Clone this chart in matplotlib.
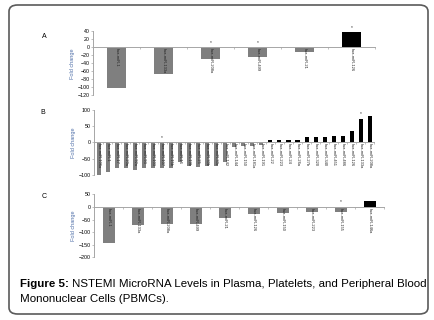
import numpy as np
import matplotlib.pyplot as plt
from matplotlib.patches import FancyBboxPatch

# ---- data ----
a_labels = ["hsa-miR-1", "hsa-miR-133a", "hsa-miR-208a", "hsa-miR-499",
            "hsa-miR-21", "hsa-miR-126"]
a_values = [-102, -67, -29, -24, -12, 38]
a_stars = [2, 3, 5]

b_labels = ["hsa-miR-106a", "hsa-miR-1", "hsa-miR-17", "hsa-miR-20a", "hsa-miR-92a",
            "hsa-miR-93", "hsa-miR-103", "hsa-miR-107", "hsa-miR-15b", "hsa-miR-16",
            "hsa-miR-19b", "hsa-miR-25", "hsa-miR-30b", "hsa-miR-30c", "hsa-miR-142",
            "hsa-miR-144", "hsa-miR-150", "hsa-miR-181a", "hsa-miR-191", "hsa-miR-22",
            "hsa-miR-223", "hsa-miR-24", "hsa-miR-26a", "hsa-miR-27b", "hsa-miR-320",
            "hsa-miR-340", "hsa-miR-451", "hsa-miR-486", "hsa-miR-126", "hsa-miR-133a",
            "hsa-miR-208a"]
b_values = [-102, -91, -79, -79, -85, -79, -79, -79, -79, -59,
            -71, -76, -71, -71, -61, -14, -12, -10, -8,
            8, 8, 8, 8, 15, 15, 15, 20, 20, 35, 73, 81]
b_stars = [7, 29]

c_labels = ["hsa-miR-1", "hsa-miR-133a", "hsa-miR-208a", "hsa-miR-499",
            "hsa-miR-21", "hsa-miR-126", "hsa-miR-150", "hsa-miR-223",
            "hsa-miR-155", "hsa-miR-146a"]
c_values = [-144, -70, -69, -69, -46, -30, -26, -20, -20, 23]
c_stars = [8]

W, H = 434, 320
fig = plt.figure(figsize=(W / 100, H / 100), dpi=100)
fig.patch.set_facecolor("white")

GRAY = "#7f7f7f"
AX = "#a6a6a6"
LAB = "#4f6fa8"
FONT = ["Liberation Sans", "DejaVu Sans"]


def px_axes(x0, x1, ytop, ybot):
    return fig.add_axes([x0 / W, 1 - ybot / H, (x1 - x0) / W, (ybot - ytop) / H])


def panel(ax, labels, values, stars, ylim, step, width, letter, lx, ly):
    n = len(values)
    x = np.arange(n)
    cols = ["black" if v > 0 else GRAY for v in values]
    ax.bar(x, values, width=width, color=cols, zorder=2)
    ax.set_xlim(-0.5, n - 0.5)
    ax.set_ylim(*ylim)
    ax.set_yticks(np.arange(ylim[0], ylim[1] + 1, step))
    ax.tick_params(axis="y", labelsize=3.8, length=1.5, width=0.5, color=AX, pad=1)
    for t in ax.get_yticklabels():
        t.set_family(FONT)
    ax.set_xticks(np.arange(n + 1) - 0.5)
    ax.set_xticklabels([])
    ax.tick_params(axis="x", length=1.5, width=0.5, color=AX, direction="out")
    for s in ["top", "right"]:
        ax.spines[s].set_visible(False)
    ax.spines["bottom"].set_position(("data", 0))
    ax.spines["bottom"].set_color(AX)
    ax.spines["left"].set_color(AX)
    ax.spines["bottom"].set_linewidth(0.7)
    ax.spines["left"].set_linewidth(0.7)
    ax.spines["bottom"].set_zorder(3)
    span = ylim[1] - ylim[0]
    for i, lab in enumerate(labels):
        ax.text(i, -span * 0.012, lab, rotation=-90, ha="center", va="top",
                fontsize=2.9, family=FONT, color="#222222", zorder=4)
    for i in stars:
        yy = max(values[i], 0) + span * 0.04
        ax.text(i, yy, "*", ha="center", va="bottom", fontsize=3.5,
                family=FONT, color="#333333", zorder=4)
    ax.set_ylabel("Fold change", fontsize=4, family=FONT, color=LAB, labelpad=2)
    fig.text(lx / W, 1 - ly / H, letter, fontsize=5, family=FONT,
             ha="center", va="center")


axA = px_axes(93.3, 375, 31.3, 95.3)
panel(axA, a_labels, a_values, a_stars, (-120, 40), 20, 0.4, "A", 44.5, 37)

axB = px_axes(94.3, 374.3, 109.7, 175)
panel(axB, b_labels, b_values, b_stars, (-100, 100), 50, 0.45, "B", 43, 112.7)

axC = px_axes(94.3, 384.3, 194.3, 257.3)
panel(axC, c_labels, c_values, c_stars, (-200, 50), 50, 0.4, "C", 44, 196.7)

# border
box = FancyBboxPatch((9 / W, 6 / H), 419 / W, 309 / H,
                     boxstyle="round,pad=0,rounding_size=0.02",
                     transform=fig.transFigure, fill=False,
                     edgecolor="#5a5a5a", linewidth=1.2)
fig.patches.append(box)

# caption
renderer = fig.canvas.get_renderer()
t1 = fig.text(20 / W, 1 - 287 / H, "Figure 5:", fontsize=8.25, family=FONT,
              weight="bold", va="baseline", ha="left")
bb = t1.get_window_extent(renderer=renderer)
fig.text((bb.x1 + 3) / W, 1 - 287 / H,
         "NSTEMI MicroRNA Levels in Plasma, Platelets, and Peripheral Blood",
         fontsize=8.25, family=FONT, va="baseline", ha="left")
fig.text(20 / W, 1 - 301.5 / H, "Mononuclear Cells (PBMCs).", fontsize=8.25,
         family=FONT, va="baseline", ha="left")

fig.savefig("out.png", dpi=100, facecolor="white")
